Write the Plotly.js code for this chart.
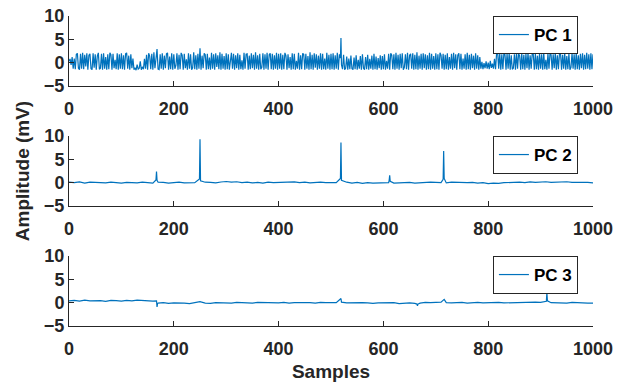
<!DOCTYPE html>
<html>
<head>
<meta charset="utf-8">
<script src="https://cdn.plot.ly/plotly-3.0.1.min.js"></script>
<style>html,body{margin:0;padding:0;background:#fff;}#chart{width:630px;height:384px;}</style>
</head>
<body>
<div id="chart"></div>
<script>
// ---- data ----
const seriesNames = ["PC 1", "PC 2", "PC 3"];
const xTickValues = [0, 200, 400, 600, 800, 1000];
const yTickValues = [-5, 0, 5, 10];

// PC 1: values every 2 samples (0..1000)
const pc1Step = 2;
const pc1Base = [
  0.3, 0.8, -0.5, 1.2, -1.3, 0.9, -1.4, 1.8, 2.0, -1.2,
  -1.5, 1.9, -1.3, 2.1, -1.4, 1.7, -0.8, 2.0, -1.5, 1.6,
  1.9, -1.3, -1.5, 2.0, -1.1, 1.8, -1.5, 1.4, 2.1, -1.4,
  -1.2, 1.9, -1.5, 2.0, -1.3, 1.2, -1.5, 1.8, -1.4, 2.1,
  1.7, -1.5, 1.9, -1.2, 0.6, -1.4, 2.0, -1.5, 1.8, -1.3,
  2.0, -1.4, 1.6, -1.5, 1.9, 2.1, -1.3, 1.5, -1.5, 1.8,
  -1.2, 0.9, -1.5, -1.1, -1.6, -0.4, -1.4, -1.2, 0.3, -1.5,
  -0.9, -1.4, 0.8, -1.3, 1.7, -1.5, 2.0, 1.4, -1.4, 1.9,
  -1.5, 2.2, -1.2, 1.6, 2.9, -1.4, -1.5, 1.8, -1.3, 2.0,
  -1.5, 1.5, -1.2, 1.9, 2.1, -1.5, 1.3, -1.4, 2.0, -1.5,
  1.8, -1.3, -0.6, 2.0, -1.5, 1.7, -1.4, 2.1, 1.6, -1.5,
  1.9, -1.2, 0.7, -1.5, 2.0, -1.3, 1.8, -1.5, -1.1, 2.2,
  -1.4, 1.6, -1.5, 1.9, -1.3, 3.1, -1.5, 1.5, -1.2, 2.0,
  1.7, -1.5, 1.9, -1.4, 1.1, -1.5, 2.1, -1.3, 1.8, -1.5,
  2.0, -0.9, 1.6, -1.4, 2.2, -1.5, 1.9, -1.3, 1.4, -1.5,
  2.0, -1.4, 1.8, -1.5, 1.3, 2.1, -1.3, 1.9, -1.5, 1.6,
  -1.2, 2.0, -1.5, 1.7, -1.4, 0.5, -1.5, 2.1, -1.3, 1.8,
  1.9, -1.5, 1.5, -1.4, 2.0, -1.2, 1.7, -1.5, 2.2, -1.3,
  1.6, -1.5, 1.9, -1.4, -1.0, 2.0, -1.5, 1.8, -1.3, 2.1,
  -1.5, 1.7, 2.0, -1.4, 1.9, -1.5, 1.6, -1.3, 2.1, -1.5,
  1.9, -1.3, 2.0, -1.5, 1.7, -1.4, 2.1, 1.5, -1.5, 1.8,
  -1.2, 1.2, -1.5, 2.0, -1.4, 1.9, -1.5, 0.4, -1.3, 2.1,
  -1.5, 1.6, -1.4, 2.0, 1.8, -1.5, 1.9, -1.3, 1.4, -1.5,
  2.2, -1.4, 1.7, -1.5, 2.0, -1.1, 1.8, -1.5, 1.5, -1.3,
  2.0, -1.5, 1.9, -1.4, 0.9, -1.5, 2.1, -1.3, 1.7, -1.5,
  1.9, -1.4, 2.0, -1.5, 1.6, -1.3, 2.1, -1.5, 1.8, 1.0,
  -0.5, -1.4, 1.7, -1.5, -1.2, 1.3, -1.5, 0.9, -1.4, 1.5,
  -1.3, -1.5, 1.1, -1.4, 1.6, -1.5, 0.6, -1.3, 1.4, -1.5,
  1.8, -1.2, -1.5, 1.2, -1.4, 1.7, -1.5, 0.8, -1.3, 1.5,
  -1.5, 1.9, -1.4, 1.3, -1.5, 1.0, -1.2, 1.6, -1.5, 1.4,
  -1.4, 1.8, -1.5, 0.4, -1.3, 1.9, -1.5, 2.0, 1.6, -1.4,
  1.8, -1.5, 2.1, -1.3, 1.7, -1.5, 1.9, -1.2, 2.0, -1.5,
  -1.0, 1.8, -1.4, 2.1, -1.5, 1.6, 1.9, -1.3, 2.0, -1.5,
  1.7, -1.4, 2.2, -1.5, 1.5, -1.3, 1.9, -1.5, 2.0, -1.2,
  1.8, -1.5, 1.6, -1.4, 2.1, -1.5, 1.9, -1.3, 1.4, -1.5,
  2.0, -1.4, 1.8, -1.5, 2.1, 1.6, -1.3, 1.9, -1.5, 1.7,
  -1.4, 2.0, -1.5, 1.2, -1.3, 1.9, -1.5, 2.1, -1.2, 1.8,
  -1.5, 1.6, 2.0, -1.4, 1.9, -1.5, 0.9, -1.3, 1.8, -1.5,
  2.1, -1.4, 1.7, -1.5, 1.9, -1.2, 1.5, -1.5, 2.0, -1.3,
  1.6, -1.5, 1.2, -1.3, 0.2, -1.4, -0.1, -1.2, 0.3, -1.3,
  0.0, -1.4, 0.4, -1.1, -0.2, -1.3, 0.8, -1.4, 1.9, 2.3,
  -1.3, 2.0, -1.5, 1.8, -1.4, 2.1, 1.7, -1.5, 1.9, -1.3,
  2.0, -1.5, 1.6, -1.4, -1.2, 1.8, -1.5, 2.1, -1.3, 1.9,
  1.5, -1.5, 2.0, -1.4, 1.7, -1.5, 1.9, -1.2, 2.1, -1.5,
  1.6, -1.3, 2.0, 1.8, -1.5, 1.9, -1.4, 1.5, -1.5, 2.0,
  -1.3, 1.8, -1.5, 2.1, -1.4, 0.6, -1.5, 1.9, -1.3, 2.0,
  1.7, -1.5, 1.8, -1.2, 2.1, -1.5, 1.6, -1.4, 1.9, 2.0,
  -1.5, 1.7, -1.3, 2.1, -1.5, 1.4, -1.4, 1.9, -1.5, -1.0,
  2.0, -1.3, 1.8, -1.5, 2.1, -1.4, 1.6, -1.5, 1.9, -1.2,
  2.0, -1.5, 1.7, -1.4, 2.1, -1.3, 1.8, -1.5, 2.0, -1.4,
  1.8
];
const pc1SpikeSamples = [518, 519, 520];
const pc1SpikeValues  = [1.0, 5.3, -0.5];

// PC 2: values every 10 samples (0..1000) plus spikes
const pc2Step = 10;
const pc2Base = [
  0.1, 0.0, 0.15, -0.1, 0.1, 0.05, 0.15, -0.05, 0.1, 0.0,
  -0.1, 0.05, 0.0, -0.05, 0.1, 0.0, -0.1, 0.1, 0.05, -0.1,
  0.0, 0.1, -0.05, 0.05, 0.0, -0.1, 0.1, 0.05, -0.05, 0.15,
  0.25, 0.1, 0.2, 0.0, 0.1, -0.05, 0.05, -0.1, 0.1, 0.0,
  0.05, -0.05, 0.1, 0.15, 0.0, 0.1, -0.05, 0.05, 0.1, 0.0,
  0.05, 0.0, -0.05, 0.1, -0.1, 0.05, -0.15, 0.0, -0.1, -0.05,
  -0.1, 0.0, -0.1, -0.05, 0.0, 0.05, -0.1, 0.0, 0.05, 0.1,
  0.05, 0.0, -0.05, 0.1, 0.05, -0.05, 0.0, 0.05, -0.1, 0.0,
  -0.2, -0.1, -0.15, 0.0, 0.05, -0.05, 0.1, 0.0, 0.15, 0.05,
  0.1, 0.2, 0.05, 0.15, 0.1, 0.2, 0.05, 0.1, 0.0, 0.05,
  -0.05
];
const pc2SpikeSamples = [166, 167, 168, 249, 250, 251, 518, 519, 520, 611, 612, 613, 714, 715, 716];
const pc2SpikeValues  = [0.6, 2.4, 0.5, 0.8, 9.3, 0.4, 0.9, 8.6, 0.5, 0.5, 1.6, 0.3, 0.7, 6.8, 0.9];

// PC 3: values every 10 samples (0..1000) plus spikes
const pc3Step = 10;
const pc3Base = [
  0.4, 0.5, 0.35, 0.55, 0.4, 0.5, 0.45, 0.3, 0.5, 0.45,
  0.35, 0.5, 0.4, 0.55, 0.45, 0.5, 0.35, -0.1, 0.0, -0.15,
  -0.05, 0.0, -0.1, -0.2, 0.0, 0.2, -0.1, -0.15, 0.0, -0.05,
  0.0, -0.1, 0.05, -0.05, 0.0, -0.1, 0.05, 0.0, -0.05, 0.0,
  -0.05, 0.05, -0.1, 0.0, 0.05, -0.05, 0.0, -0.1, 0.05, 0.0,
  -0.05, 0.0, 0.1, -0.05, 0.0, -0.1, 0.0, -0.05, -0.15, -0.05,
  0.0, -0.1, 0.0, -0.2, -0.1, -0.05, -0.15, -0.1, 0.05, 0.0,
  0.05, 0.1, 0.0, -0.05, 0.0, 0.05, -0.1, 0.0, 0.05, -0.05,
  0.0, 0.1, 0.05, -0.05, 0.0, 0.05, 0.1, 0.0, 0.05, 0.1,
  0.05, 0.2, 0.0, -0.05, 0.0, -0.1, 0.05, -0.05, 0.0, -0.1,
  -0.1
];
const pc3SpikeSamples = [167, 168, 169, 519, 664, 665, 666, 716, 911, 912, 913];
const pc3SpikeValues  = [0.4, -0.9, -0.2, 0.9, -0.3, -0.7, -0.3, 0.7, 0.3, 2.1, 0.4];

// ---- build series: base grid merged with spike points ----
function buildSeries(base, step, spikeS, spikeV) {
  const pts = [];
  const spikeSet = new Set(spikeS);
  base.forEach((v, i) => { const s = i * step; if (!spikeSet.has(s)) pts.push([s, v]); });
  spikeS.forEach((s, i) => pts.push([s, spikeV[i]]));
  pts.sort((a, b) => a[0] - b[0]);
  return { x: pts.map(p => p[0]), y: pts.map(p => p[1]) };
}
const series = [
  buildSeries(pc1Base, pc1Step, pc1SpikeSamples, pc1SpikeValues),
  buildSeries(pc2Base, pc2Step, pc2SpikeSamples, pc2SpikeValues),
  buildSeries(pc3Base, pc3Step, pc3SpikeSamples, pc3SpikeValues)
];

// ---- styling ----
const FAM = "'Liberation Sans', Arial, sans-serif";
const AX = '#262626';
const LINE = '#0072BD';
const tickFont = { family: FAM, size: 18, color: AX, weight: 'bold' };

const traces = series.map((s, i) => ({
  type: 'scatter', mode: 'lines', x: s.x, y: s.y, name: seriesNames[i],
  xaxis: i === 0 ? 'x' : 'x' + (i + 1), yaxis: i === 0 ? 'y' : 'y' + (i + 1),
  legend: i === 0 ? 'legend' : 'legend' + (i + 1),
  line: { color: LINE, width: 1.2 }, showlegend: true, hoverinfo: 'skip'
}));

const domains = [[0.7742, 1], [0.3871, 0.6129], [0, 0.2258]];
function xAxis(anchor) {
  return {
    anchor: anchor, domain: [0, 1], range: [0, 1000], tickmode: 'array', tickvals: xTickValues,
    ticks: 'inside', ticklen: 5, tickwidth: 1, tickcolor: AX, showline: true, linecolor: AX, linewidth: 1,
    showgrid: false, zeroline: false, tickfont: tickFont, mirror: false, fixedrange: true,
    ticklabelstandoff: 6
  };
}
function yAxis(anchor, dom) {
  return {
    anchor: anchor, domain: dom, range: [-5, 10], tickmode: 'array', tickvals: yTickValues,
    ticks: 'inside', ticklen: 5, tickwidth: 1, tickcolor: AX, showline: true, linecolor: AX, linewidth: 1,
    showgrid: false, zeroline: false, tickfont: tickFont, mirror: false, fixedrange: true
  };
}
function legendAt(ytop) {
  return {
    x: 0.809, xanchor: 'left', y: ytop, yanchor: 'top', bgcolor: '#ffffff', bordercolor: AX, borderwidth: 1,
    font: { family: FAM, size: 17, color: '#000000', weight: 'bold' }
  };
}

const layout = {
  width: 630, height: 384, paper_bgcolor: '#ffffff', plot_bgcolor: '#ffffff',
  margin: { l: 69, r: 37, t: 16, b: 58 },
  showlegend: true,
  xaxis: xAxis('y'), xaxis2: xAxis('y2'), xaxis3: Object.assign(xAxis('y3'), {
    title: { text: 'Samples', font: { family: FAM, size: 19, color: AX, weight: 'bold' }, standoff: 7 }
  }),
  yaxis: yAxis('x', domains[0]),
  yaxis2: Object.assign(yAxis('x2', domains[1]), {
    title: { text: 'Amplitude (mV)', font: { family: FAM, size: 19, color: AX, weight: 'bold' }, standoff: 9 }
  }),
  yaxis3: yAxis('x3', domains[2]),
  legend: legendAt(1), legend2: legendAt(0.6129), legend3: legendAt(0.2258)
};

Plotly.newPlot('chart', traces, layout, { staticPlot: true, displayModeBar: false });
</script>
</body>
</html>
